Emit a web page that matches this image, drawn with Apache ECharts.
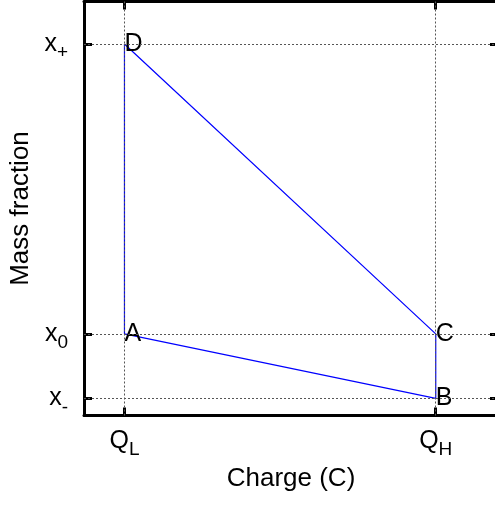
<!DOCTYPE html>
<html><head><meta charset="utf-8">
<script src="https://cdn.jsdelivr.net/npm/echarts@6/dist/echarts.min.js"></script>
<style>html,body{margin:0;padding:0;background:#fff}#c{width:495px;height:506px}</style>
</head><body><div id="c"></div>
<script>
// Tick positions and labels
const xTickValues = [0, 1];
const xTickNames = ['Q', 'Q'];
const xTickSubs = ['L', 'H'];
const yTickValues = [0, 0.182, 1];
const yTickNames = ['x', 'x', 'x'];
const yTickSubs = ['-', '0', '+'];
// Cycle D -> A -> B -> C -> D
const pointNames = ['D', 'A', 'B', 'C', ''];
const pointX = [0, 0, 1, 1, 0];
const pointY = [1, 0.182, 0, 0.182, 1];

const FONT = 'Liberation Sans, Arial, sans-serif';
const rich = {
  m: {fontSize: 25, fontFamily: FONT, color: '#000', lineHeight: 25, verticalAlign: 'middle'},
  s: {fontSize: 19, fontFamily: FONT, color: '#000', lineHeight: 25, verticalAlign: 'middle', padding: [18, 0, 0, 0]}
};
function fmt(values, names, subs) {
  return function (v) {
    let i = values.findIndex(t => Math.abs(t - v) < 1e-9);
    if (i < 0) return '';
    return '{m|' + names[i] + '}{s|' + subs[i] + '}';
  };
}
const lineStyleAxis = {color: '#000', width: 3};
const chart = echarts.init(document.getElementById('c'), null, {renderer: 'canvas'});
const xMin = -0.13, xMax = 1.2, yMin = -0.0485, yMax = 1.12;
chart.setOption({
  animation: false,
  backgroundColor: '#fff',
  grid: {left: 84, top: 1.5, width: 414, height: 414, containLabel: false, outerBoundsMode: 'none'},
  xAxis: [{
    type: 'value', min: xMin, max: xMax, position: 'bottom',
    name: 'Charge (C)', nameLocation: 'middle', nameGap: 50,
    nameTextStyle: {fontSize: 26, fontFamily: FONT, color: '#000'},
    axisLine: {show: true, onZero: false, lineStyle: lineStyleAxis},
    axisTick: {show: true, inside: true, length: 8, customValues: xTickValues, lineStyle: {color: '#000', width: 3}},
    axisLabel: {show: true, customValues: xTickValues, margin: 13, formatter: fmt(xTickValues, xTickNames, xTickSubs), rich: rich},
    splitLine: {show: false}
  }, {
    type: 'value', min: xMin, max: xMax, position: 'top',
    axisLine: {show: true, onZero: false, lineStyle: lineStyleAxis},
    axisTick: {show: true, inside: true, length: 8, customValues: xTickValues, lineStyle: {color: '#000', width: 3}},
    axisLabel: {show: false},
    splitLine: {show: false}
  }],
  yAxis: [{
    type: 'value', min: yMin, max: yMax, position: 'left',
    name: 'Mass fraction', nameLocation: 'middle', nameGap: 46, nameRotate: 90,
    nameTextStyle: {fontSize: 26, fontFamily: FONT, color: '#000'},
    axisLine: {show: true, onZero: false, lineStyle: lineStyleAxis},
    axisTick: {show: true, inside: true, length: 8, customValues: yTickValues, lineStyle: {color: '#000', width: 3}},
    axisLabel: {show: true, customValues: yTickValues, margin: 16, formatter: fmt(yTickValues, yTickNames, yTickSubs), rich: rich},
    splitLine: {show: false}
  }, {
    type: 'value', min: yMin, max: yMax, position: 'right',
    axisLine: {show: true, onZero: false, lineStyle: lineStyleAxis},
    axisTick: {show: true, inside: true, length: 8, customValues: yTickValues, lineStyle: {color: '#000', width: 3}},
    axisLabel: {show: false},
    splitLine: {show: false}
  }],
  series: [{
    type: 'line',
    data: pointX.map((x, i) => [x, pointY[i]]),
    symbol: 'circle', symbolSize: 0.01, showSymbol: true,
    lineStyle: {color: '#0000ff', width: 1.2},
    itemStyle: {color: '#0000ff'},
    label: {
      show: true, position: 'right', distance: 0,
      formatter: p => pointNames[p.dataIndex],
      fontSize: 25, fontFamily: FONT, color: '#000'
    },
    markLine: {
      silent: true, symbol: 'none', animation: false,
      label: {show: false},
      lineStyle: {color: '#555', width: 1, type: [2, 2]},
      data: xTickValues.map(v => ({xAxis: v})).concat(yTickValues.map(v => ({yAxis: v})))
    },
    z: 3
  }]
});
</script></body></html>
